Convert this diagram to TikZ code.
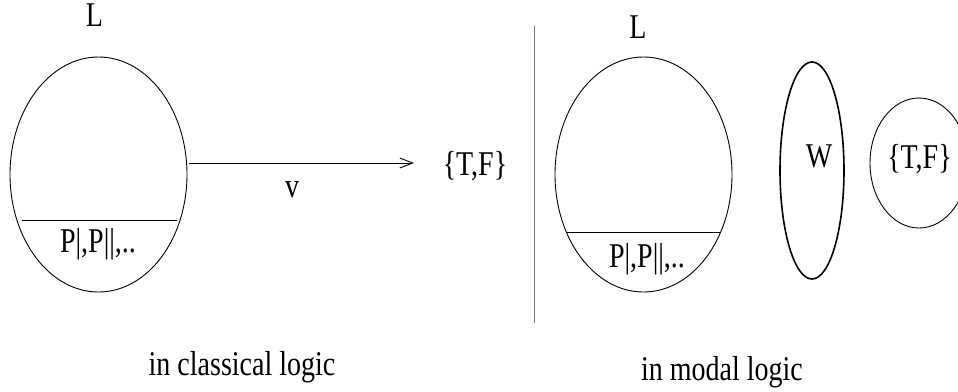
\documentclass[tikz,border=0pt]{standalone}
\usepackage{fontspec}
\setmainfont{Liberation Serif}
\usetikzlibrary{shapes.geometric,arrows.meta,calc}
\newcommand\stxt[1]{\scalebox{1}[1.24]{#1}}
\begin{document}
\begin{tikzpicture}[x=1pt,y=-1pt,
  lbl/.style={font=\fontsize{28}{34}\selectfont, inner sep=0pt},
  setell/.style={draw, ellipse, inner sep=0pt, line width=0.9pt},
  thin/.style={line width=0.9pt}]
\useasboundingbox (0,0) rectangle (958,391);
% left part
\node[setell, minimum width=177pt, minimum height=235pt] (Lc) at (98.5,174.5) {};
\node[lbl] (Lcl) at (94.5,15) {\stxt{L}};
\draw[thin] ($(Lc.center)+(-77,45.5)$) coordinate (lc1) -- ($(Lc.center)+(78,45.5)$) coordinate (lc2);
\node[lbl, anchor=base] (Pc) at (98,252) {\stxt{P|,P||,..}};
\node[lbl, anchor=base] (TFc) at (475,175) {\stxt{\{T,F\}}};
\coordinate (arrend) at (414,163);
\draw[thin, shorten <=2pt, -{Straight Barb[length=13pt,width=10pt]}] (Lc.east |- arrend) -- (arrend);
\node[lbl] (v) at (292,190) {\stxt{v}};
\node[lbl, anchor=base] (capc) at (242,375) {\stxt{in classical logic}};
% divider
\coordinate (dtop) at (534,26);
\coordinate (dbot) at (534,323);
\draw[line width=0.9pt, black!55] (dtop) -- (dbot);
% right part
\node[setell, minimum width=177pt, minimum height=235pt] (Lm) at (643.5,174.5) {};
\node[lbl] (Lml) at (638,27.5) {\stxt{L}};
\draw[thin] ($(Lm.center)+(-77,57.5)$) coordinate (lm1) -- ($(Lm.center)+(77,57.5)$) coordinate (lm2);
\node[lbl, anchor=base] (Pm) at (647,267) {\stxt{P|,P||,..}};
\node[setell, line width=1.6pt, minimum width=64pt, minimum height=217pt] (W) at (812,170.5) {};
\node[lbl, anchor=base] (Wl) at (819,167) {\stxt{W}};
\node[setell, minimum width=98pt, minimum height=130pt] (TFm) at (919,163) {};
\node[lbl, anchor=base] (TFml) at (919.5,168) {\stxt{\{T,F\}}};
\node[lbl, anchor=base] (capm) at (722,380) {\stxt{in modal logic}};
\end{tikzpicture}
\end{document}
